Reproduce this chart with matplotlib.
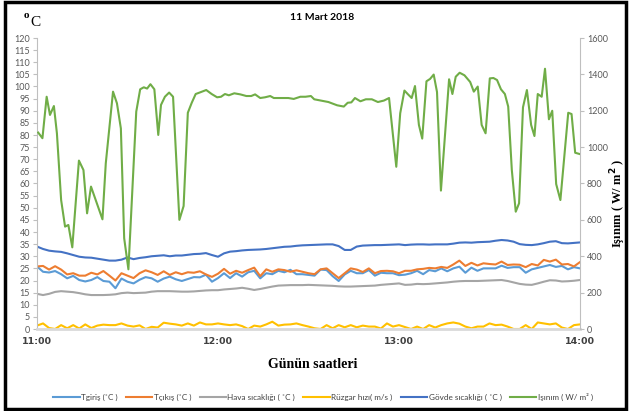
import matplotlib
matplotlib.use("Agg")
import matplotlib.pyplot as plt
from matplotlib.patches import Rectangle
import numpy as np

# zaman: 11:00'dan itibaren dakika (2 dk aralik)
dakika = np.arange(0, 181, 2)

t_giris = [25.8, 23.6, 23.3, 23.9, 22.6, 20.9, 21.9, 20.2, 19.6, 20.2, 21.4, 19.8, 19.5, 16.8, 20.8,
           19.5, 18.8, 20.3, 21.4, 20.9, 19.5, 20.8, 21.6, 20.5, 19.8, 20.6, 21.4, 21.3, 22.4, 19.5,
           21.0, 23.0, 21.0, 23.0, 21.6, 23.4, 24.0, 20.9, 23.0, 22.6, 24.0, 23.4, 24.4, 22.6, 22.6,
           22.3, 22.0, 24.5, 24.3, 21.8, 19.8, 22.5, 24.0, 23.0, 23.0, 24.3, 22.0, 23.2, 23.0, 23.0,
           22.2, 22.4, 23.0, 24.0, 22.6, 24.3, 23.8, 25.0, 23.8, 25.0, 25.7, 23.2, 25.3, 24.0, 25.0,
           25.0, 25.0, 26.1, 25.2, 25.5, 25.5, 23.2, 24.6, 25.2, 25.8, 26.4, 25.6, 26.0, 24.6, 25.5,
           25.0]
t_cikis = [25.8, 26.0, 24.5, 25.9, 24.5, 22.5, 23.0, 22.0, 22.0, 23.2, 22.5, 23.9, 22.0, 20.0, 23.0,
           22.0, 21.0, 23.0, 24.2, 23.4, 22.3, 23.8, 22.3, 23.4, 22.6, 23.4, 23.2, 23.8, 22.5, 21.5,
           22.8, 24.8, 22.8, 24.0, 23.2, 24.3, 25.3, 21.8, 24.6, 23.6, 24.6, 24.3, 23.6, 24.2, 23.6,
           23.0, 22.6, 24.6, 25.0, 23.0, 21.0, 23.0, 25.0, 24.5, 23.5, 25.0, 23.0, 23.9, 24.0, 23.8,
           23.0, 24.0, 24.0, 24.6, 24.8, 25.2, 25.0, 25.6, 25.2, 26.6, 28.2, 26.0, 27.3, 26.2, 27.1,
           26.8, 26.6, 27.8, 26.4, 26.6, 26.5, 25.5, 26.8, 26.2, 28.5, 27.8, 28.6, 26.6, 26.8, 25.8,
           27.6]
hava = [14.5, 14.0, 14.5, 15.3, 15.6, 15.4, 15.2, 14.8, 14.3, 14.0, 14.0, 14.0, 14.1, 14.3, 14.8,
        15.0, 14.8, 14.9, 15.0, 15.4, 15.6, 15.6, 15.6, 15.5, 15.4, 15.4, 15.5, 15.7, 15.9, 16.0,
        16.0, 16.3, 16.5, 16.7, 17.0, 16.6, 16.1, 16.5, 17.0, 17.5, 17.9, 18.0, 18.1, 18.1, 18.1,
        18.2, 18.1, 18.0, 17.9, 17.8, 17.6, 17.5, 17.5, 17.6, 17.7, 17.8, 17.9, 18.2, 18.4, 18.6,
        18.8, 18.2, 18.3, 18.6, 18.5, 18.6, 18.8, 19.0, 19.2, 19.5, 19.7, 19.8, 19.8, 19.8, 19.9,
        20.0, 20.1, 20.2, 19.8, 19.2, 18.6, 18.3, 18.2, 18.8, 19.5, 20.1, 20.0, 19.6, 19.7, 19.9,
        20.2]
ruzgar = [1.4, 2.3, 0.4, 0.0, 1.6, 0.3, 1.6, 0.2, 1.9, 0.4, 1.4, 1.8, 1.6, 1.6, 2.3,
          1.4, 1.0, 1.5, 0.0, 0.9, 0.6, 2.6, 2.2, 1.9, 1.4, 2.3, 1.4, 2.7, 1.9, 1.9,
          2.3, 1.9, 1.6, 1.9, 1.2, 0.0, 1.4, 1.0, 1.9, 3.0, 1.4, 1.8, 1.9, 2.3, 1.6,
          1.0, 0.3, 0.0, 1.6, 0.3, 1.6, 0.7, 1.6, 0.7, 1.4, 1.0, 1.0, 0.2, 2.3, 1.0,
          1.6, 0.8, 0.0, 1.0, 0.0, 1.6, 0.6, 1.6, 2.3, 2.7, 2.2, 1.0, 0.3, 1.0, 1.0,
          2.3, 1.6, 1.8, 1.0, 0.0, 0.0, 1.6, 0.0, 2.7, 2.3, 1.9, 2.3, 0.6, 0.0, 1.6,
          1.9]
govde = [34.0, 33.0, 32.3, 32.0, 31.8, 31.2, 30.5, 29.8, 29.5, 29.4, 29.0, 28.6, 28.2, 28.2, 28.6,
         29.5, 28.8, 29.3, 29.6, 30.0, 30.2, 30.4, 30.0, 30.3, 30.3, 30.6, 30.9, 31.0, 31.3, 30.5,
         29.8, 31.2, 31.9, 32.1, 32.4, 32.6, 32.7, 32.8, 33.0, 33.3, 33.6, 33.9, 34.0, 34.3, 34.5,
         34.6, 34.7, 34.8, 34.9, 34.9, 34.2, 32.6, 32.6, 34.0, 34.4, 34.5, 34.6, 34.6, 34.7, 34.8,
         34.9, 34.6, 34.8, 34.9, 34.9, 34.8, 34.9, 34.9, 34.9, 35.2, 35.6, 35.7, 35.6, 35.8, 35.9,
         36.0, 36.4, 36.7, 36.5, 36.0, 35.0, 34.7, 34.6, 34.9, 35.4, 36.0, 36.2, 35.4, 35.3, 35.5,
         35.7]

# isinim (W/m2), kendi olcum zamanlari
isinim_dk = [0.4, 1.8, 3.2, 4.3, 5.6, 6.6, 8.0, 9.3, 10.4, 11.7, 13.9, 15.4, 16.6, 17.9, 21.7,
             22.8, 25.2, 26.5, 27.8, 28.9, 30.3, 32.9, 34.2, 35.4, 36.5, 37.6, 38.9, 40.2, 41.1,
             42.4, 43.8, 45.1, 47.2, 48.6, 50.0, 51.3, 52.6, 53.9, 56.1, 57.9, 59.7, 61.0, 62.3,
             63.6, 65.4, 67.4, 69.4, 71.0, 72.3, 74.0, 75.6, 77.3, 78.5, 81.0, 83.3, 85.1, 87.3,
             89.0, 90.8, 91.9, 94.4, 96.6, 99.5, 101.7, 103.0, 104.2, 105.4, 107.2, 109.0, 111.0,
             113.0, 115.0, 116.7, 119.1, 120.4, 121.8, 123.0, 124.2, 125.3, 126.6, 127.7, 129.1,
             130.3, 131.5, 132.6, 133.9, 136.6, 137.7, 138.8, 140.1, 141.7, 143.6, 144.8, 146.1,
             147.4, 148.7, 150.1, 151.3, 152.5, 153.8, 155.1, 156.2, 157.4, 158.7, 159.8, 161.1,
             162.4, 163.8, 164.9, 166.0, 167.3, 168.4, 169.7, 170.8, 172.1, 173.5, 176.1, 177.2,
             178.4, 179.9]
isinim = [1080, 1049, 1277, 1177, 1226, 1076, 709, 563, 572, 449, 926, 874, 636, 783, 603,
          911, 1305, 1241, 1103, 499, 328, 1195, 1318, 1329, 1322, 1346, 1318, 1067, 1232,
          1277, 1300, 1277, 600, 676, 1189, 1244, 1292, 1300, 1314, 1292, 1274, 1277, 1292,
          1285, 1296, 1290, 1281, 1281, 1290, 1270, 1274, 1281, 1270, 1270, 1270, 1265, 1277,
          1277, 1281, 1263, 1255, 1248, 1230, 1223, 1244, 1246, 1270, 1252, 1263, 1263,
          1248, 1256, 1270, 892, 1186, 1311, 1290, 1270, 1336, 1122, 1047, 1362,
          1375, 1399, 1303, 761, 1373, 1292, 1387, 1409, 1395, 1358, 1305, 1333,
          1122, 1076, 1378, 1380, 1369, 1318, 1292, 1223, 874, 645, 691, 1219,
          1314, 1122, 1061, 1292, 1277, 1431, 1153, 1200, 797, 709, 1189, 1182,
          969, 962]

saat_etiket = ['11:00', '12:00', '13:00', '14:00']

W, H = 629, 411
fig = plt.figure(figsize=(W / 100, H / 100), dpi=100)
ax = fig.add_axes([37 / W, 1 - 329 / H, (580 - 37) / W, (329 - 38) / H])
ax2 = ax.twinx()

lw = 1.5
l1, = ax.plot(dakika, t_giris, color='#5B9BD5', lw=lw, label='Tgiriş (˚C )')
l2, = ax.plot(dakika, t_cikis, color='#ED7D31', lw=lw, label='Tçıkış (˚C )')
l3, = ax.plot(dakika, hava, color='#A5A5A5', lw=lw, label='Hava sıcaklığı ( ˚C )')
l4, = ax.plot(dakika, ruzgar, color='#FFC000', lw=lw, label='Rüzgar hızı( m/s )')
l5, = ax.plot(dakika, govde, color='#4472C4', lw=lw, label='Gövde sıcaklığı ( ˚C )')
l6, = ax2.plot(isinim_dk, isinim, color='#70AD47', lw=lw, label='Işınım ( W/ m² )')

ax.set_xlim(0, 180)
ax.set_ylim(0, 120)
ax2.set_ylim(0, 1600)
ax.set_yticks(np.arange(0, 121, 5))
ax2.set_yticks(np.arange(0, 1601, 200))
ax.set_xticks([0, 60, 120, 180])
ax.set_xticklabels(saat_etiket, fontsize=6.8, fontweight='bold', color='#404040')

for a in (ax, ax2):
    for s in a.spines.values():
        s.set_visible(False)
ax.spines['left'].set_visible(True)
ax.spines['left'].set_color('#BFBFBF')
ax2.spines['right'].set_visible(True)
ax2.spines['right'].set_color('#BFBFBF')
ax.spines['bottom'].set_visible(True)
ax.spines['bottom'].set_color('#D9D9D9')
ax.spines['bottom'].set_linewidth(2)

ax.tick_params(axis='y', labelsize=6.5, labelcolor='#595959', color='#BFBFBF', length=3, pad=2)
ax2.tick_params(axis='y', labelsize=6.5, labelcolor='#595959', color='#BFBFBF', length=3, pad=2)
ax.tick_params(axis='x', length=0, pad=6)
for lab in ax.get_yticklabels() + ax2.get_yticklabels():
    lab.set_family('Lato')

fig.text(322 / W, 1 - 17 / H, '11 Mart 2018', ha='center', va='center',
         fontsize=7.5, fontweight='bold', family='Lato')
fig.text(26 / W, 1 - 15 / H, 'o', ha='center', va='center', fontsize=8,
         fontweight='bold', family='Liberation Serif')
fig.text(35 / W, 1 - 23 / H, 'C', ha='center', va='center', fontsize=11,
         family='Liberation Serif')
fig.text(313 / W, 1 - 364 / H, 'Günün saatleri', ha='center', va='center',
         fontsize=10, fontweight='bold', family='Liberation Serif')
fig.text(618 / W, 1 - 203 / H, r'Işınım ( W/ m$^{\mathbf{2}}$ )', ha='center', va='center',
         rotation=90, fontsize=9, fontweight='bold', family='Liberation Serif')

leg = fig.legend(handles=[l1, l2, l3, l4, l5, l6], loc='center', ncol=6,
                 bbox_to_anchor=(323 / W, 1 - 397 / H), frameon=False,
                 prop={'family': 'Lato', 'size': 5.9}, handlelength=3.2,
                 handletextpad=0.2, columnspacing=1.0)
for t in leg.get_texts():
    t.set_color('#404040')

fig.patches.append(Rectangle((5 / W, 2 / H), 621 / W, 407 / H, transform=fig.transFigure,
                             fill=False, edgecolor='black', linewidth=2.5))

fig.savefig('out.png', dpi=100)
